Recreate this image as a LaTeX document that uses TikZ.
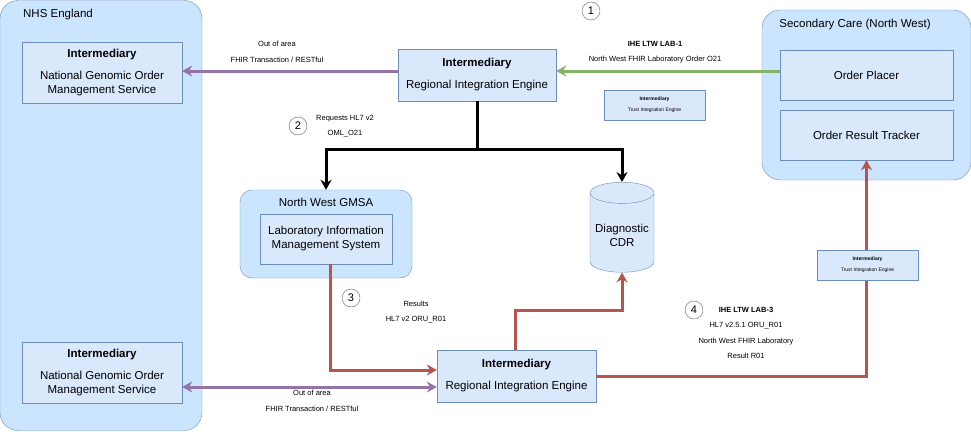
\documentclass[tikz,border=0pt]{standalone}
\usepackage{fontspec}
\setmainfont{Liberation Sans}
\usetikzlibrary{arrows.meta,positioning,shapes.geometric}
\definecolor{boxfill}{HTML}{DAE8FC}
\definecolor{boxline}{HTML}{6C8EBF}
\definecolor{groupfill}{HTML}{CCE5FF}
\definecolor{purpleline}{HTML}{9673A6}
\definecolor{greenline}{HTML}{82B366}
\definecolor{redline}{HTML}{B85450}
\tikzset{
    group/.style={draw=boxline,fill=groupfill,rounded corners=18pt,minimum width=#1},
    sys/.style={draw=boxline,fill=boxfill,align=center,font=\fontsize{11.5}{14}\selectfont},
    tiny/.style={draw=boxline,fill=boxfill,align=center,font=\fontsize{5}{8}\selectfont,minimum width=101pt,minimum height=30pt},
    lbl/.style={align=center,font=\fontsize{7.5}{15.5}\selectfont},
    marker/.style={circle,draw=black!60,fill=white,minimum size=18pt,inner sep=0pt,font=\fontsize{11}{12}\selectfont},
    flow/.style={line width=3pt,-{Stealth[length=10pt,width=11pt]}},
}
\begin{document}
\begin{tikzpicture}[x=1pt,y=-1pt]
    \useasboundingbox (0,0) rectangle (971,431);
    % containers
    \node[group=202pt,minimum height=430pt] (nhs) at (101,215.5) {};
    \node[anchor=north,font=\fontsize{11.5}{14}\selectfont] at (58,6) {NHS England};
    \node[group=209pt,minimum height=170pt] (sec) at (866.5,95) {};
    \node[anchor=north,font=\fontsize{11.5}{14}\selectfont] at (855,16) {Secondary Care (North West)};
    \node[group=172pt,minimum height=88pt,rounded corners=12pt] (gmsa) at (326,234) {};
    \node[anchor=north,font=\fontsize{11.5}{14}\selectfont] at (326,195) {North West GMSA};
    % systems
    \node[sys,minimum width=160pt,minimum height=61pt] (ngoms) at (102,72.5)
        {\textbf{Intermediary}\\[8pt]National Genomic Order\\Management Service};
    \node[sys,minimum width=160pt,minimum height=61pt] (ngoms2) at (102,372.5)
        {\textbf{Intermediary}\\[8pt]National Genomic Order\\Management Service};
    \node[sys,minimum width=158pt,minimum height=52pt] (rie) at (477,75)
        {\textbf{Intermediary}\\[8pt]Regional Integration Engine};
    \node[sys,minimum width=159pt,minimum height=52pt] (rie2) at (516.5,376)
        {\textbf{Intermediary}\\[8pt]Regional Integration Engine};
    \node[sys,minimum width=173pt,minimum height=50pt] (placer) at (866.5,75) {Order Placer};
    \node[sys,minimum width=173pt,minimum height=50pt] (tracker) at (866.5,135) {Order Result Tracker};
    \node[sys,minimum width=132pt,minimum height=50pt] (lims) at (326,239)
        {Laboratory Information\\Management System};
    \node[tiny] (tie) at (654.5,105) {\textbf{Intermediary}\\[3pt]Trust Integration Engine};
    \node[cylinder,shape border rotate=90,aspect=0.35,draw=boxline,fill=boxfill,
          minimum width=64pt,minimum height=90pt,align=center,
          font=\fontsize{11.5}{14}\selectfont] (cdr) at (622,235) {Diagnostic\\CDR};
    % steps
    \node[marker] (s1) at (591,11) {1};
    \node[marker] (s2) at (298,126) {2};
    \node[marker] (s3) at (351,298) {3};
    \node[marker] (s4) at (694,310) {4};
    % labels
    \node[lbl] (l1) at (277,52) {Out of area\\FHIR Transaction / RESTful};
    \node[lbl] (l2) at (655,52) {\textbf{IHE LTW LAB-1}\\North West FHIR Laboratory Order O21};
    \node[lbl] (l3) at (345,126) {Requests HL7 v2\\OML\_O21};
    \node[lbl] (l4) at (416,312) {Results\\HL7 v2 ORU\_R01};
    \node[lbl] (l5) at (746,333) {\textbf{IHE LTW LAB-3}\\HL7 v2.5.1 ORU\_R01\\North West FHIR Laboratory\\Result R01};
    \node[lbl] (l6) at (312,401) {Out of area\\FHIR Transaction / RESTful};
    % connectors
    \coordinate (fork) at (477,149);
    \path[flow,draw=purpleline] ([yshift=4pt]rie.west) -- ([yshift=4pt]rie.west -| ngoms.east);
    \path[flow,draw=greenline] ([yshift=4pt]placer.west) -- ([yshift=4pt]placer.west -| rie.east);
    \draw[line width=3pt] (rie.south) -- (fork);
    \draw[flow] (fork) -| (gmsa.north);
    \draw[flow] (fork) -| (cdr.north);
    \draw[flow,draw=redline] ([xshift=4pt]lims.south) |- ([yshift=6pt]rie2.west);
    \draw[flow,draw=redline] ([xshift=-1.5pt]rie2.north) |- (622,310) -- (cdr.south);
    \draw[flow,draw=redline] (rie2.east) -| (tracker.south);
    \draw[flow,draw=purpleline,{Stealth[length=10pt,width=11pt]}-{Stealth[length=10pt,width=11pt]}]
        ([yshift=-11pt]rie2.west -| ngoms2.east) -- ([yshift=-11pt]rie2.west);
    % drawn last so it sits over the result line
    \node[tiny] (tie2) at (867.5,265) {\textbf{Intermediary}\\[3pt]Trust Integration Engine};
\end{tikzpicture}
\end{document}
